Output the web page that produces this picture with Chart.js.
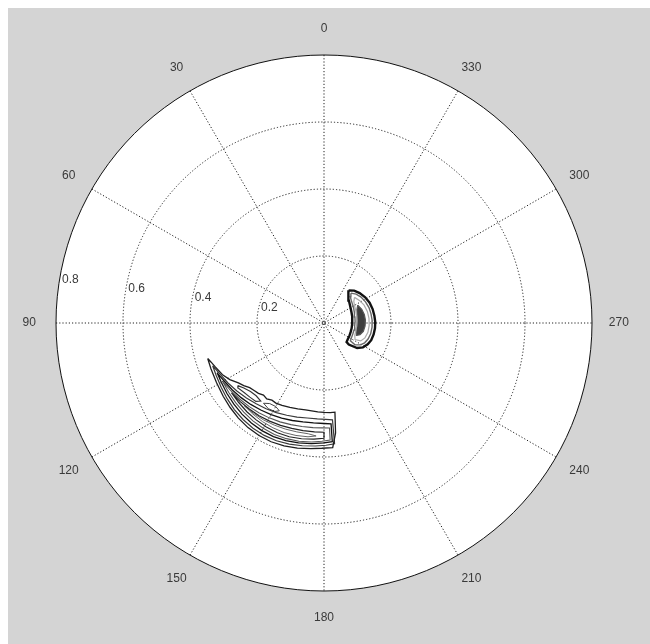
<!DOCTYPE html>
<html>
<head>
<meta charset="utf-8">
<script src="https://cdn.jsdelivr.net/npm/chart.js@4.4.1/dist/chart.umd.min.js"></script>
<style>
  html, body { margin: 0; padding: 0; background: #fff; }
  canvas { display: block; }
</style>
</head>
<body>
<canvas id="polarChart" width="650" height="644"></canvas>
<script>
// Axis values
const rMax = 0.8;
const ringTicks = [0.2, 0.4, 0.6, 0.8];
const angleTicks = [0, 30, 60, 90, 120, 150, 180, 210, 240, 270, 300, 330];
const radialLabelAngle = 82;

// Contours, theta in degrees counter-clockwise from the top, r in plot units
// Small crescent near the pole
const contourA1Theta = [323, 317, 310, 302, 294, 286, 278, 271, 264, 257, 250, 244, 238, 233, 229, 230, 236, 243, 251, 259, 267, 275, 283, 291, 299, 306, 312, 318, 323];
const contourA1R = [0.122, 0.132, 0.139, 0.145, 0.149, 0.151, 0.152, 0.153, 0.153, 0.152, 0.150, 0.145, 0.137, 0.124, 0.098, 0.088, 0.086, 0.085, 0.084, 0.084, 0.084, 0.085, 0.086, 0.088, 0.091, 0.095, 0.100, 0.108, 0.122];
const contourA2Theta = [318, 312, 305, 297, 289, 281, 273, 265, 257, 250, 244, 239, 235, 236, 242, 249, 257, 265, 273, 281, 289, 297, 304, 310, 315, 318];
const contourA2R = [0.120, 0.129, 0.135, 0.139, 0.142, 0.143, 0.144, 0.144, 0.143, 0.140, 0.135, 0.127, 0.113, 0.095, 0.093, 0.092, 0.092, 0.092, 0.093, 0.094, 0.096, 0.099, 0.102, 0.106, 0.111, 0.120];
const contourA3Theta = [310, 302, 294, 285, 276, 267, 258, 250, 244, 242, 248, 256, 265, 274, 283, 292, 300, 306, 310];
const contourA3R = [0.119, 0.126, 0.131, 0.134, 0.135, 0.135, 0.134, 0.130, 0.122, 0.105, 0.099, 0.098, 0.098, 0.099, 0.100, 0.102, 0.105, 0.110, 0.119];
const contourA4Theta = [298, 290, 282, 274, 266, 258, 252, 249, 253, 261, 269, 277, 285, 292, 298];
const contourA4R = [0.114, 0.120, 0.123, 0.124, 0.123, 0.120, 0.113, 0.104, 0.100, 0.099, 0.099, 0.100, 0.102, 0.106, 0.114];

// Long arc in the lower left
const contourB1Theta = [107, 112, 119, 126, 132, 138, 144, 150, 156, 162, 168, 174, 179, 184, 186, 187, 184, 180, 176, 172, 168, 163, 158, 153, 149, 146, 143, 140, 137, 134, 131, 128, 125, 121, 117, 112, 109, 107];
const contourB1R = [0.363, 0.364, 0.367, 0.372, 0.377, 0.382, 0.386, 0.388, 0.388, 0.386, 0.382, 0.377, 0.374, 0.373, 0.330, 0.268, 0.268, 0.267, 0.266, 0.265, 0.265, 0.268, 0.272, 0.276, 0.279, 0.278, 0.284, 0.281, 0.287, 0.290, 0.294, 0.304, 0.312, 0.328, 0.340, 0.350, 0.357, 0.363];
const contourB2Theta = [111, 116, 122, 128, 134, 140, 146, 152, 158, 164, 170, 176, 181, 185, 185, 181, 176, 170, 164, 158, 152, 146, 140, 134, 128, 122, 116, 111];
const contourB2R = [0.356, 0.358, 0.362, 0.367, 0.372, 0.376, 0.379, 0.380, 0.379, 0.376, 0.372, 0.368, 0.365, 0.362, 0.290, 0.288, 0.287, 0.288, 0.292, 0.297, 0.303, 0.309, 0.315, 0.322, 0.330, 0.338, 0.346, 0.356];
const contourB3Theta = [115, 120, 126, 132, 138, 144, 150, 156, 162, 168, 174, 180, 184, 184, 180, 174, 168, 162, 156, 150, 144, 138, 132, 126, 120, 115];
const contourB3R = [0.352, 0.354, 0.358, 0.362, 0.366, 0.369, 0.371, 0.371, 0.369, 0.366, 0.362, 0.358, 0.355, 0.302, 0.300, 0.300, 0.302, 0.306, 0.311, 0.316, 0.321, 0.327, 0.333, 0.339, 0.345, 0.352];
const contourB4Theta = [120, 126, 132, 138, 144, 150, 156, 162, 168, 174, 179, 183, 183, 179, 174, 168, 162, 156, 150, 144, 138, 132, 126, 120];
const contourB4R = [0.349, 0.352, 0.355, 0.358, 0.361, 0.363, 0.364, 0.363, 0.361, 0.357, 0.353, 0.350, 0.314, 0.313, 0.314, 0.316, 0.319, 0.323, 0.327, 0.331, 0.335, 0.339, 0.344, 0.349];
const contourB5Theta = [127, 133, 139, 145, 151, 157, 163, 169, 175, 180, 180, 175, 169, 163, 157, 151, 145, 139, 133, 127];
const contourB5R = [0.346, 0.348, 0.351, 0.353, 0.355, 0.356, 0.355, 0.352, 0.348, 0.344, 0.326, 0.326, 0.327, 0.329, 0.332, 0.335, 0.338, 0.340, 0.343, 0.346];
const contourB6Theta = [136, 142, 148, 154, 160, 166, 172, 176, 172, 166, 160, 154, 148, 142, 136];
const contourB6R = [0.343, 0.345, 0.347, 0.348, 0.348, 0.346, 0.343, 0.338, 0.334, 0.335, 0.337, 0.339, 0.341, 0.342, 0.343];
const contourB7Theta = [126, 129, 133, 137, 141, 139, 135, 131, 127, 126];
const contourB7R = [0.318, 0.308, 0.300, 0.297, 0.300, 0.310, 0.313, 0.316, 0.322, 0.318];
const contourB8Theta = [143, 146, 150, 153, 151, 147, 143];
const contourB8R = [0.300, 0.290, 0.288, 0.294, 0.302, 0.305, 0.300];

function toPoints(thetas, radii) {
  return thetas.map((t, i) => {
    const a = t * Math.PI / 180;
    return { x: -radii[i] * Math.sin(a), y: radii[i] * Math.cos(a) };
  });
}

const contours = [
  { theta: contourB1Theta, r: contourB1R, color: "#1e1e1e", width: 1.3 },
  { theta: contourB2Theta, r: contourB2R, color: "#3a3a3a", width: 1.2 },
  { theta: contourB3Theta, r: contourB3R, color: "#111", width: 1.3 },
  { theta: contourB4Theta, r: contourB4R, color: "#555", width: 1.1 },
  { theta: contourB5Theta, r: contourB5R, color: "#222", width: 1.2 },
  { theta: contourB6Theta, r: contourB6R, color: "#666", width: 1 },
  { theta: contourB7Theta, r: contourB7R, color: "#333", width: 1.1 },
  { theta: contourB8Theta, r: contourB8R, color: "#444", width: 1 },
  { theta: contourA1Theta, r: contourA1R, color: "#111", width: 2.4 },
  { theta: contourA2Theta, r: contourA2R, color: "#666", width: 1.4 },
  { theta: contourA3Theta, r: contourA3R, color: "#aaa", width: 1.2 },
  { theta: contourA4Theta, r: contourA4R, color: "#555", width: 1.2, fill: "#3e3e3e" }
];

function polarPixel(chart, theta, r) {
  const a = theta * Math.PI / 180;
  return {
    x: chart.scales.x.getPixelForValue(-r * Math.sin(a)),
    y: chart.scales.y.getPixelForValue(r * Math.cos(a))
  };
}

const polarGrid = {
  id: "polarGrid",
  beforeDraw(chart) {
    const { ctx, width, height } = chart;
    const c = polarPixel(chart, 0, 0);
    const rad = polarPixel(chart, 90, -rMax).x - c.x;
    ctx.save();
    ctx.fillStyle = "#fff";
    ctx.fillRect(0, 0, width, height);
    ctx.fillStyle = "#d4d4d4";
    ctx.fillRect(8, 8, width - 8, height - 8);
    ctx.fillStyle = "#fff";
    ctx.beginPath();
    ctx.arc(c.x, c.y, rad, 0, Math.PI * 2);
    ctx.fill();
    ctx.restore();
  },
  beforeDatasetsDraw(chart) {
    const { ctx } = chart;
    const c = polarPixel(chart, 0, 0);
    const pxPerUnit = polarPixel(chart, 90, -1).x - c.x;
    ctx.save();

    // dotted rings and spokes
    ctx.strokeStyle = "#222";
    ctx.lineWidth = 1;
    ctx.setLineDash([1.2, 2]);
    ringTicks.filter(t => t < rMax).forEach(t => {
      ctx.beginPath();
      ctx.arc(c.x, c.y, t * pxPerUnit, 0, Math.PI * 2);
      ctx.stroke();
    });
    angleTicks.filter(a => a < 180).forEach(a => {
      const p1 = polarPixel(chart, a, rMax);
      const p2 = polarPixel(chart, a + 180, rMax);
      ctx.beginPath();
      ctx.moveTo(p1.x, p1.y);
      ctx.lineTo(p2.x, p2.y);
      ctx.stroke();
    });

    // outer circle
    ctx.setLineDash([]);
    ctx.strokeStyle = "#111";
    ctx.beginPath();
    ctx.arc(c.x, c.y, rMax * pxPerUnit, 0, Math.PI * 2);
    ctx.stroke();

    // labels
    ctx.fillStyle = "#3a3a3a";
    ctx.font = "12px 'Liberation Sans', Arial, sans-serif";
    ctx.textAlign = "center";
    ctx.textBaseline = "middle";
    angleTicks.forEach(a => {
      const p = polarPixel(chart, a, rMax * 1.1);
      ctx.fillText(String(a), p.x, p.y);
    });
    ctx.textAlign = "left";
    ctx.textBaseline = "bottom";
    ringTicks.forEach(t => {
      const p = polarPixel(chart, radialLabelAngle, t + 0.01);
      ctx.fillText("  " + t, p.x, p.y);
    });
    ctx.restore();
  }
};

new Chart(document.getElementById("polarChart"), {
  type: "scatter",
  data: {
    datasets: contours.map(cn => ({
      data: toPoints(cn.theta, cn.r),
      showLine: true,
      borderColor: cn.color,
      borderWidth: cn.width,
      backgroundColor: cn.fill || "transparent",
      fill: cn.fill ? "shape" : false,
      pointRadius: 0,
      tension: 0
    }))
  },
  options: {
    responsive: false,
    animation: false,
    layout: { padding: { left: 56, right: 58, top: 55, bottom: 53 } },
    scales: {
      x: { type: "linear", min: -rMax, max: rMax, display: false },
      y: { type: "linear", min: -rMax, max: rMax, display: false }
    },
    plugins: { legend: { display: false }, tooltip: { enabled: false } }
  },
  plugins: [polarGrid]
});
</script>
</body>
</html>
